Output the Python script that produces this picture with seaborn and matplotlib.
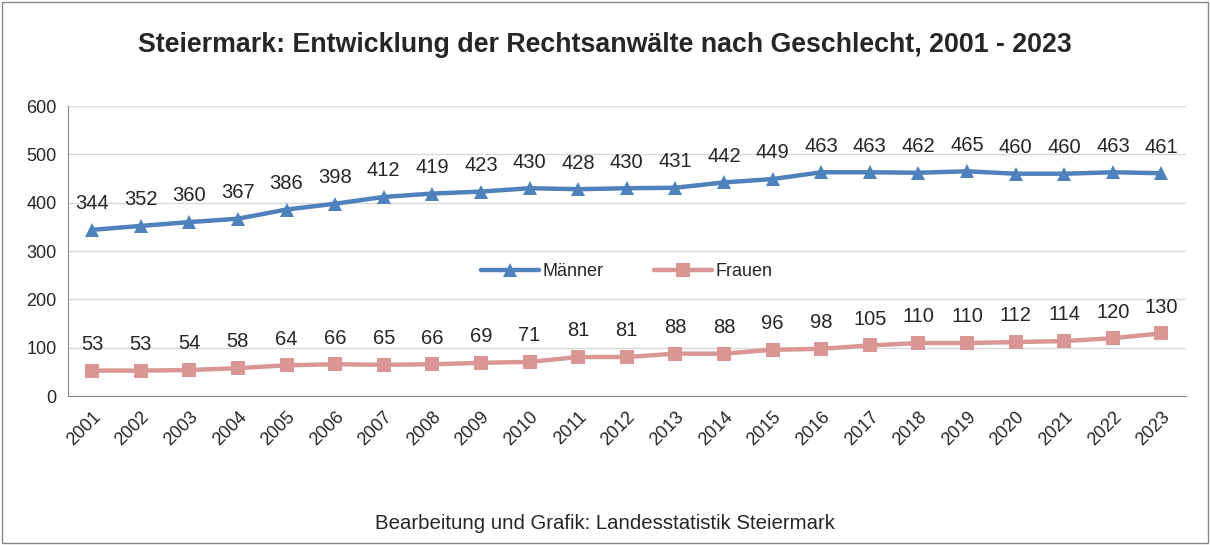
import pandas as pd
import seaborn as sns
import matplotlib.pyplot as plt
from matplotlib.patches import Rectangle
#---------------------------------------------------------------------------#
jahre = [str(j) for j in range(2001, 2024)]
maenner = [344, 352, 360, 367, 386, 398, 412, 419, 423, 430, 428, 430,
           431, 442, 449, 463, 463, 462, 465, 460, 460, 463, 461]
frauen = [53, 53, 54, 58, 64, 66, 65, 66, 69, 71, 81, 81,
          88, 88, 96, 98, 105, 110, 110, 112, 114, 120, 130]

df = pd.DataFrame({'pos': list(range(len(jahre))) * 2,
                   'Anzahl': maenner + frauen,
                   'Geschlecht': ['Männer'] * len(jahre) + ['Frauen'] * len(jahre)})

sns.set_style('white')
plt.rcParams['font.family'] = ['Liberation Sans', 'DejaVu Sans']

fig = plt.figure(figsize=(12.1, 5.45), dpi=100)
ax = fig.add_axes([0.056, 0.273, 0.924, 0.5325])

farben = {'Männer': '#4F81BD', 'Frauen': '#D99694'}
sns.lineplot(data=df, x='pos', y='Anzahl', hue='Geschlecht', style='Geschlecht',
             palette=farben, markers={'Männer': '^', 'Frauen': 's'}, dashes=False,
             linewidth=3.2, markersize=10, markeredgewidth=0, ax=ax)

for werte in (maenner, frauen):
    for i, v in enumerate(werte):
        ax.annotate(str(v), (i, v), xytext=(0, 12), textcoords='offset points',
                    ha='center', va='bottom', fontsize=14.5)

ax.set_xlim(-0.5, len(jahre) - 0.5)
ax.set_ylim(0, 600)
ax.set_yticks(range(0, 601, 100))
ax.set_xticks(range(len(jahre)))
ax.set_xticklabels(jahre, rotation=45, ha='right', rotation_mode='anchor', fontsize=13)
ax.set_xticks([i - 0.5 for i in range(len(jahre) + 1)], minor=True)
ax.tick_params(axis='x', which='major', length=0, pad=9)
ax.tick_params(axis='x', which='minor', length=5, color='#888888', width=1)
ax.tick_params(axis='y', length=5, color='#888888', labelsize=13, pad=3)
ax.yaxis.grid(True, color='#D9D9D9', linewidth=1)
ax.set_axisbelow(True)
for s in ('top', 'right'):
    ax.spines[s].set_visible(False)
for s in ('left', 'bottom'):
    ax.spines[s].set_color('#888888')
ax.set_xlabel('')
ax.set_ylabel('')

ax.legend(loc='center', bbox_to_anchor=(0.5, 0.43), ncol=2, frameon=False,
          fontsize=13, handlelength=3.2, columnspacing=2.8, handletextpad=0.2)

fig.text(0.5, 0.917, 'Steiermark: Entwicklung der Rechtsanwälte nach Geschlecht, 2001 - 2023',
         ha='center', va='center', fontsize=19.3, fontweight='bold')
fig.text(0.5, 0.04, 'Bearbeitung und Grafik: Landesstatistik Steiermark',
         ha='center', va='center', fontsize=14.7)
fig.patches.append(Rectangle((0.002, 0.004), 0.996, 0.992, transform=fig.transFigure,
                             fill=False, edgecolor='#888888', linewidth=1))

plt.savefig('out.png', dpi=100)
